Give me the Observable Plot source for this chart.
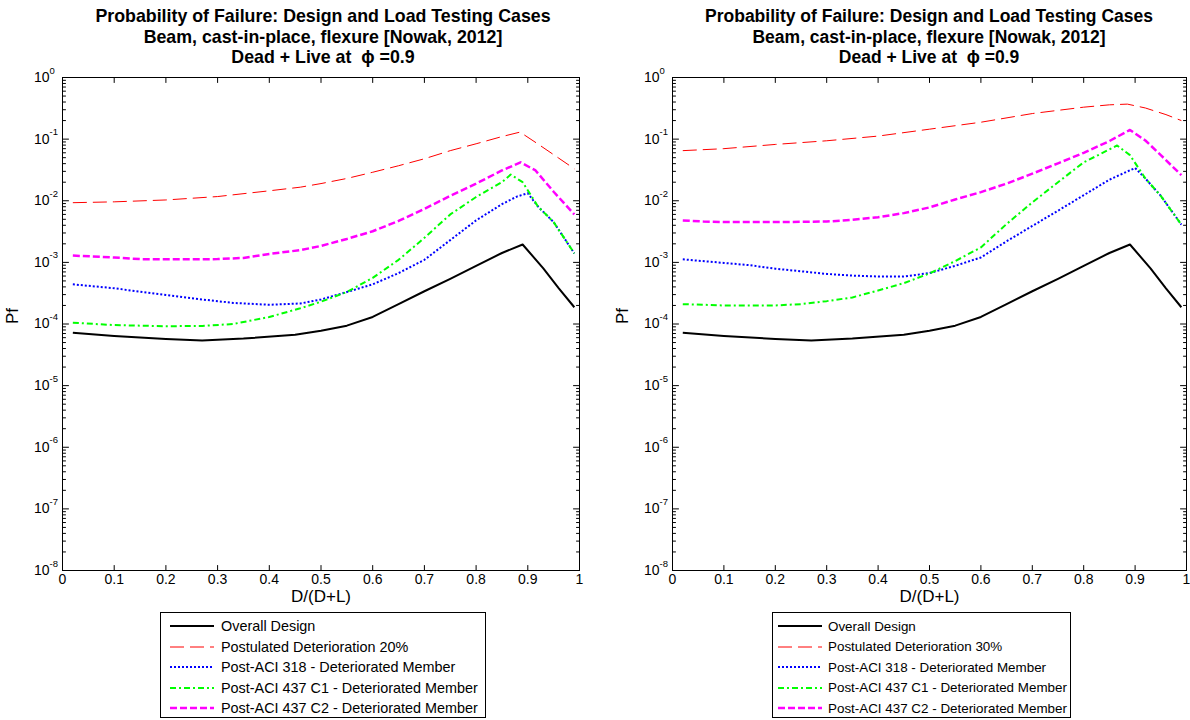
<!DOCTYPE html>
<html>
<head>
<meta charset="utf-8">
<script src="https://cdn.jsdelivr.net/npm/d3@7"></script>
<script src="https://cdn.jsdelivr.net/npm/@observablehq/plot@0.6"></script>
<style>
  body { margin: 0; background: #fff; font-family: "Liberation Sans", Arial, sans-serif; color: #000; }
  #root { position: relative; width: 1190px; height: 720px; overflow: hidden; background: #fff; }
  .title { position: absolute; top: 6px; text-align: center; font-weight: bold; line-height: 20.5px; white-space: nowrap; }
  .panel { position: absolute; top: 60px; }
  .legend { position: absolute; top: 612px; height: 106px; border: 1px solid #000; background: #fff; box-sizing: border-box; padding-top: 3px; }
  .legend .row { display: flex; align-items: center; height: 20.5px; white-space: nowrap; }
  .legend svg { display: block; flex: none; }
</style>
</head>
<body>
<div id="root"></div>
<script>
// ---------- axis ticks ----------
const xTicks = [0, 0.1, 0.2, 0.3, 0.4, 0.5, 0.6, 0.7, 0.8, 0.9, 1];
const yDecades = [1e-8, 1e-7, 1e-6, 1e-5, 1e-4, 1e-3, 1e-2, 1e-1, 1];
const yExponents = ["-8", "-7", "-6", "-5", "-4", "-3", "-2", "-1", "0"];

// ---------- titles / labels ----------
const titleLines = [
  "Probability of Failure: Design and Load Testing Cases",
  "Beam, cast-in-place, flexure [Nowak, 2012]",
  "Dead + Live at  \u03D5 =0.9"
];
const xLabel = "D/(D+L)";
const yLabel = "Pf";
const seriesNames = ["Overall Design", "Postulated Deterioration", "Post-ACI 318 - Deteriorated Member", "Post-ACI 437 C1 - Deteriorated Member", "Post-ACI 437 C2 - Deteriorated Member"];
const deteriorationLabels = ["20%", "30%"];

// ---------- Overall design (same on both panels) ----------
const overallX  = [0.02, 0.1, 0.2, 0.27, 0.35, 0.45, 0.5, 0.55, 0.6, 0.65, 0.7, 0.75, 0.8, 0.85, 0.89, 0.93, 0.96, 0.99];
const overallPf = [7.2e-5, 6.4e-5, 5.7e-5, 5.4e-5, 5.8e-5, 6.7e-5, 7.8e-5, 9.4e-5, 1.3e-4, 2.1e-4, 3.4e-4, 5.4e-4, 8.8e-4, 1.42e-3, 1.95e-3, 8e-4, 3.8e-4, 1.87e-4];

// ---------- Left panel (20% deterioration) ----------
const det20X  = [0.02, 0.1, 0.2, 0.3, 0.4, 0.46, 0.5, 0.55, 0.6, 0.65, 0.7, 0.75, 0.8, 0.85, 0.885, 0.92, 0.96, 0.99];
const det20Pf = [9.3e-3, 9.6e-3, 1.03e-2, 1.17e-2, 1.45e-2, 1.66e-2, 1.9e-2, 2.3e-2, 2.9e-2, 3.7e-2, 4.8e-2, 6.5e-2, 8.4e-2, 0.11, 0.13, 0.083, 0.049, 0.033];

const aci318LX  = [0.02, 0.1, 0.2, 0.27, 0.33, 0.4, 0.46, 0.5, 0.55, 0.6, 0.65, 0.7, 0.75, 0.8, 0.85, 0.88, 0.9, 0.92, 0.95, 0.99];
const aci318LPf = [4.4e-4, 3.8e-4, 2.95e-4, 2.5e-4, 2.2e-4, 2.05e-4, 2.15e-4, 2.5e-4, 3.3e-4, 4.4e-4, 6.7e-4, 1.1e-3, 2.3e-3, 4.8e-3, 8.8e-3, 1.18e-2, 1.32e-2, 8e-3, 4.5e-3, 1.4e-3];

const c1LX  = [0.02, 0.1, 0.2, 0.27, 0.33, 0.4, 0.46, 0.5, 0.55, 0.6, 0.65, 0.7, 0.75, 0.8, 0.85, 0.867, 0.89, 0.92, 0.95, 0.99];
const c1LPf = [1.05e-4, 9.6e-5, 9.2e-5, 9.3e-5, 1e-4, 1.3e-4, 1.8e-4, 2.3e-4, 3.3e-4, 5.6e-4, 1.1e-3, 2.5e-3, 6e-3, 1.15e-2, 2e-2, 2.66e-2, 2e-2, 8e-3, 4.5e-3, 1.4e-3];

const c2LX  = [0.02, 0.1, 0.15, 0.2, 0.3, 0.35, 0.4, 0.46, 0.5, 0.55, 0.6, 0.65, 0.7, 0.75, 0.8, 0.85, 0.886, 0.915, 0.95, 0.99];
const c2LPf = [1.29e-3, 1.2e-3, 1.13e-3, 1.12e-3, 1.13e-3, 1.18e-3, 1.37e-3, 1.58e-3, 1.85e-3, 2.4e-3, 3.2e-3, 4.7e-3, 7.4e-3, 1.2e-2, 1.9e-2, 3.1e-2, 4.2e-2, 3.1e-2, 1.4e-2, 6e-3];

// ---------- Right panel (30% deterioration) ----------
const det30X  = [0.02, 0.1, 0.2, 0.3, 0.4, 0.5, 0.6, 0.7, 0.8, 0.85, 0.885, 0.92, 0.96, 0.99];
const det30Pf = [6.5e-2, 7e-2, 8.2e-2, 9.4e-2, 0.112, 0.145, 0.188, 0.26, 0.33, 0.36, 0.37, 0.32, 0.25, 0.2];

const aci318RX  = [0.02, 0.1, 0.15, 0.2, 0.3, 0.35, 0.4, 0.45, 0.5, 0.55, 0.6, 0.65, 0.7, 0.75, 0.8, 0.85, 0.9, 0.92, 0.95, 0.99];
const aci318RPf = [1.12e-3, 9.8e-4, 9e-4, 7.9e-4, 6.5e-4, 6.1e-4, 5.9e-4, 5.9e-4, 6.7e-4, 8.8e-4, 1.2e-3, 2.2e-3, 3.9e-3, 6.9e-3, 1.23e-2, 2.2e-2, 3.4e-2, 2.3e-2, 1.2e-2, 4.1e-3];

const c1RX  = [0.02, 0.1, 0.2, 0.25, 0.3, 0.35, 0.4, 0.45, 0.5, 0.55, 0.6, 0.65, 0.7, 0.75, 0.8, 0.83, 0.865, 0.89, 0.92, 0.95, 0.99];
const c1RPf = [2.1e-4, 2e-4, 2e-4, 2.1e-4, 2.35e-4, 2.7e-4, 3.5e-4, 4.6e-4, 6.6e-4, 1.05e-3, 1.75e-3, 4.2e-3, 9.4e-3, 2e-2, 4.2e-2, 5.6e-2, 7.9e-2, 5.5e-2, 2.3e-2, 1.2e-2, 4.1e-3];

const c2RX  = [0.02, 0.06, 0.1, 0.2, 0.3, 0.35, 0.4, 0.45, 0.5, 0.55, 0.6, 0.65, 0.7, 0.75, 0.8, 0.85, 0.89, 0.92, 0.95, 0.99];
const c2RPf = [4.8e-3, 4.6e-3, 4.5e-3, 4.5e-3, 4.6e-3, 4.9e-3, 5.4e-3, 6.3e-3, 7.8e-3, 1.05e-2, 1.38e-2, 1.9e-2, 2.75e-2, 4.05e-2, 6e-2, 9.3e-2, 0.141, 0.095, 5.5e-2, 2.6e-2];

// ---------- styles ----------
const seriesStyles = [
  {stroke: "#000000", strokeWidth: 2,   dash: null},
  {stroke: "#ff0000", strokeWidth: 1,   dash: "14,6"},
  {stroke: "#0000ff", strokeWidth: 2,   dash: "2,2"},
  {stroke: "#00ff00", strokeWidth: 2,   dash: "6,3,2,3"},
  {stroke: "#ff00ff", strokeWidth: 2.5, dash: "7,3"}
];

const FONT = "Liberation Sans, Arial, Helvetica, sans-serif";
const tickShape = {draw(context, l) { context.moveTo(0, 0); context.lineTo(0, -l); }};
const yMinor = d3.scaleLog().domain([1e-8, 1]).ticks().filter(v => !yDecades.some(d => Math.abs(v - d) / d < 1e-6));

function toRows(xs, ys) { return xs.map((x, i) => ({x, pf: ys[i]})); }

function makePlot(seriesData, ml, mr) {
  const lineMarks = seriesData.map((rows, i) => {
    const s = seriesStyles[i];
    return Plot.line(rows, {x: "x", y: "pf", stroke: s.stroke, strokeWidth: s.strokeWidth,
      strokeDasharray: s.dash, strokeLinecap: "butt", strokeLinejoin: "round"});
  });
  const tick = (data, opts) => Plot.vector(data, {anchor: "start", shape: tickShape, stroke: "black", strokeWidth: 1, ...opts});
  return Plot.plot({
    width: 590, height: 550,
    marginLeft: ml, marginRight: mr, marginTop: 17, marginBottom: 40,
    style: {fontFamily: FONT, fontSize: "14px", color: "black", background: "white", overflow: "visible"},
    x: {domain: [0, 1]},
    y: {type: "log", domain: [1e-8, 1], axis: null},
    marks: [
      ...lineMarks,
      Plot.frame({stroke: "black", strokeWidth: 1}),
      Plot.axisX(xTicks, {tickSize: 0, tickPadding: 4, tickFormat: d => String(d), label: null, fontSize: 14}),
      tick(xTicks, {x: d => d, frameAnchor: "bottom", rotate: 0, length: 5}),
      tick(xTicks, {x: d => d, frameAnchor: "top", rotate: 180, length: 5}),
      tick(yDecades, {y: d => d, frameAnchor: "left", rotate: 90, length: 6}),
      tick(yDecades, {y: d => d, frameAnchor: "right", rotate: -90, length: 6}),
      tick(yMinor, {y: d => d, frameAnchor: "left", rotate: 90, length: 3}),
      tick(yMinor, {y: d => d, frameAnchor: "right", rotate: -90, length: 3}),
      Plot.text(yDecades, {y: d => d, frameAnchor: "left", text: () => "10", textAnchor: "end", dx: -13, fontSize: 14, fill: "black"}),
      Plot.text(yDecades, {y: d => d, frameAnchor: "left", text: (d, i) => yExponents[i], textAnchor: "start", dx: -13, dy: -7, fontSize: 9.5, fill: "black"}),
      Plot.text([xLabel], {frameAnchor: "bottom", text: d => d, dy: 31, fontSize: 17, fill: "black"}),
      Plot.text([yLabel], {frameAnchor: "left", text: d => d, dx: -50, rotate: -90, fontSize: 17, fill: "black"})
    ]
  });
}

function makeLegend(labels, left, width, fontSize, padLeft, sampleLen, gap) {
  const box = document.createElement("div");
  box.className = "legend";
  box.style.left = left + "px";
  box.style.width = width + "px";
  box.style.fontSize = fontSize + "px";
  labels.forEach((label, i) => {
    const s = seriesStyles[i];
    const row = document.createElement("div");
    row.className = "row";
    row.style.paddingLeft = padLeft + "px";
    const svg = d3.create("svg").attr("width", sampleLen).attr("height", 10);
    svg.append("line").attr("x1", 0).attr("x2", sampleLen).attr("y1", 5).attr("y2", 5)
      .attr("stroke", s.stroke).attr("stroke-width", s.strokeWidth)
      .attr("stroke-dasharray", s.dash);
    row.appendChild(svg.node());
    const t = document.createElement("span");
    t.style.marginLeft = gap + "px";
    t.textContent = label;
    row.appendChild(t);
    box.appendChild(row);
  });
  return box;
}

function makeTitle(centerX, size) {
  const t = document.createElement("div");
  t.className = "title";
  t.style.left = (centerX - 300) + "px";
  t.style.width = "600px";
  t.style.fontSize = size + "px";
  t.innerHTML = titleLines.map(l => l.replace(/ {2}/g, " \u00a0")).join("<br>");
  return t;
}

const root = document.getElementById("root");

// Left panel
const leftPlot = makePlot([
  toRows(overallX, overallPf), toRows(det20X, det20Pf), toRows(aci318LX, aci318LPf),
  toRows(c1LX, c1LPf), toRows(c2LX, c2LPf)
], 62, 11);
const leftWrap = document.createElement("div");
leftWrap.className = "panel"; leftWrap.style.left = "0px";
leftWrap.appendChild(leftPlot);
root.appendChild(leftWrap);
root.appendChild(makeTitle(323, 17.8));
root.appendChild(makeLegend([seriesNames[0], seriesNames[1] + " " + deteriorationLabels[0], seriesNames[2], seriesNames[3], seriesNames[4]], 160, 326, 14.4, 9, 44, 7));

// Right panel
const rightPlot = makePlot([
  toRows(overallX, overallPf), toRows(det30X, det30Pf), toRows(aci318RX, aci318RPf),
  toRows(c1RX, c1RPf), toRows(c2RX, c2RPf)
], 72, 4);
const rightWrap = document.createElement("div");
rightWrap.className = "panel"; rightWrap.style.left = "600px";
rightWrap.appendChild(rightPlot);
root.appendChild(rightWrap);
root.appendChild(makeTitle(929, 17.5));
root.appendChild(makeLegend([seriesNames[0], seriesNames[1] + " " + deteriorationLabels[1], seriesNames[2], seriesNames[3], seriesNames[4]], 772, 299, 13.4, 5, 44, 6));
</script>
</body>
</html>
